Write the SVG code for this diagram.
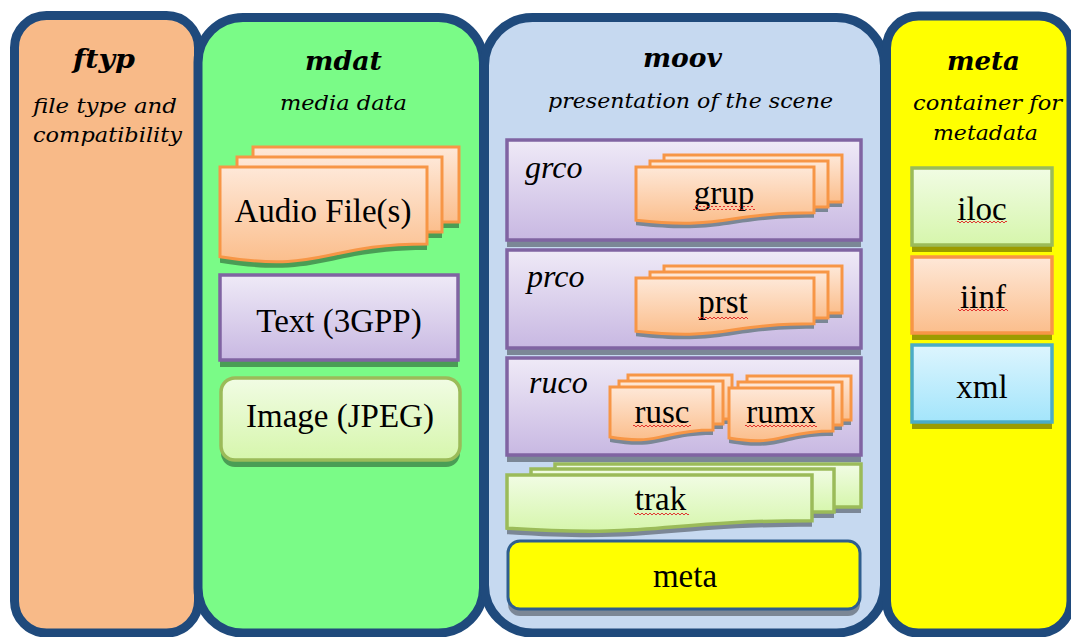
<svg xmlns="http://www.w3.org/2000/svg" width="1071" height="637" viewBox="0 0 1071 637">
<defs>
<linearGradient id="gOrange" x1="0" y1="0" x2="0" y2="1"><stop offset="0" stop-color="#FEE8D8"/><stop offset="1" stop-color="#FBBE8C"/></linearGradient>
<linearGradient id="gPurple" x1="0" y1="0" x2="0" y2="1"><stop offset="0" stop-color="#EFEAF7"/><stop offset="1" stop-color="#C8B8E2"/></linearGradient>
<linearGradient id="gGreen" x1="0" y1="0" x2="0" y2="1"><stop offset="0" stop-color="#F1FCE4"/><stop offset="1" stop-color="#D6F6AC"/></linearGradient>
<linearGradient id="gCyan" x1="0" y1="0" x2="0" y2="1"><stop offset="0" stop-color="#DDF5FE"/><stop offset="1" stop-color="#A3E5FB"/></linearGradient>
<pattern id="sq" patternUnits="userSpaceOnUse" width="4" height="4"><path d="M0,3 L2,1 L4,3" fill="none" stroke="#E02020" stroke-width="0.9"/></pattern>
</defs>
<style>
.panel{stroke:#1F4A7C;stroke-width:9}
.title{font-family:"DejaVu Serif",serif;font-weight:bold;font-style:italic;font-size:26px;fill:#000;text-anchor:middle}
.sub{font-family:"DejaVu Serif",serif;font-style:italic;font-size:21px;fill:#000;text-anchor:middle}
.lbl{font-family:"Liberation Serif",serif;font-size:33px;fill:#000;text-anchor:middle}
.ilbl{font-family:"Liberation Serif",serif;font-style:italic;font-size:32px;fill:#000}
.or{fill:url(#gOrange);stroke:#F79646;stroke-width:3}
.pu{fill:url(#gPurple);stroke:#8064A2;stroke-width:3.5}
.gr{fill:url(#gGreen);stroke:#9BBB59;stroke-width:3.5}
.cy{fill:url(#gCyan);stroke:#4BACC6;stroke-width:3.5}
.ye{fill:#FFFF00;stroke:#2F5E8E;stroke-width:3}
.shG{fill:#4A9D55}
.shM{fill:#7B8796}
.shY{fill:#9C9C00}
.sq{fill:url(#sq)}
</style>

<g id="panel-ftyp">
<rect class="panel" x="14.5" y="15.5" width="184" height="617.5" rx="32" fill="#F8BA88"/>
<text class="title" x="104" y="68" textLength="62" lengthAdjust="spacingAndGlyphs">ftyp</text>
<text class="sub" x="105" y="113" textLength="144" lengthAdjust="spacingAndGlyphs">file type and</text>
<text class="sub" x="107.5" y="142" textLength="149" lengthAdjust="spacingAndGlyphs">compatibility</text>
</g>

<g id="panel-mdat">
<rect class="panel" x="198" y="17.5" width="285.5" height="615.5" rx="45" fill="#7AFB87"/>
<text class="title" x="343.5" y="70" textLength="77" lengthAdjust="spacingAndGlyphs">mdat</text>
<text class="sub" x="343.5" y="110" textLength="127" lengthAdjust="spacingAndGlyphs">media data</text>
</g>

<g id="panel-moov">
<rect class="panel" x="484.5" y="17.5" width="400" height="615.5" rx="48" fill="#C6D9F0"/>
<text class="title" x="682.5" y="67" textLength="79" lengthAdjust="spacingAndGlyphs">moov</text>
<text class="sub" x="690.5" y="108" textLength="285" lengthAdjust="spacingAndGlyphs">presentation of the scene</text>
</g>

<g id="panel-meta">
<rect class="panel" x="886.5" y="16" width="184.5" height="617" rx="32" fill="#FFFF00"/>
<text class="title" x="983.5" y="70" textLength="73" lengthAdjust="spacingAndGlyphs">meta</text>
<text class="sub" x="987.5" y="110" textLength="149" lengthAdjust="spacingAndGlyphs">container for</text>
<text class="sub" x="985.5" y="140" textLength="105" lengthAdjust="spacingAndGlyphs">metadata</text>
</g>

<g id="node-audio">
<rect class="shG" x="253" y="153" width="206" height="75"/>
<rect class="or" x="253" y="147" width="206" height="75"/>
<rect class="shG" x="237" y="163" width="205" height="75"/>
<rect class="or" x="237" y="157" width="205" height="75"/>
<path class="shG" d="M220,173 H427 V250 C323.5,250 323.5,279.3 220,262.7 Z"/>
<path class="or" d="M220,167 H427 V244 C323.5,244 323.5,273.3 220,256.7 Z"/>
<text class="lbl" x="323" y="222">Audio File(s)</text>
</g>

<g id="node-text3gpp">
<rect class="shG" x="220" y="282" width="238" height="85"/>
<rect class="pu" x="220" y="275" width="238" height="85"/>
<text class="lbl" x="339" y="332">Text (3GPP)</text>
</g>

<g id="node-image">
<rect class="shG" x="221" y="385" width="239" height="82" rx="14"/>
<rect class="gr" x="221" y="378" width="239" height="82" rx="14"/>
<text class="lbl" x="340" y="427">Image (JPEG)</text>
</g>

<g id="node-grco">
<rect class="shM" x="507" y="147" width="354" height="100"/>
<rect class="pu" x="507" y="140" width="354" height="100"/>
<text class="ilbl" x="525" y="178">grco</text>
</g>
<g id="node-grup">
<rect class="shM" x="664" y="160" width="178" height="47"/>
<rect class="or" x="664" y="155" width="178" height="47"/>
<rect class="shM" x="650" y="166" width="178" height="46"/>
<rect class="or" x="650" y="161" width="178" height="46"/>
<path class="shM" d="M636,172 H814 V217.7 C725,217.7 725,235.1 636,225.2 Z"/>
<path class="or" d="M636,167 H814 V212.7 C725,212.7 725,230.1 636,220.2 Z"/>
<text class="lbl" x="724" y="204">grup</text>
<rect class="sq" x="693" y="206" width="62" height="4"/>
</g>

<g id="node-prco">
<rect class="shM" x="507" y="257" width="354" height="98"/>
<rect class="pu" x="507" y="250" width="354" height="98"/>
<text class="ilbl" x="527" y="287">prco</text>
</g>
<g id="node-prst">
<rect class="shM" x="664" y="271" width="178" height="47"/>
<rect class="or" x="664" y="266" width="178" height="47"/>
<rect class="shM" x="650" y="277" width="178" height="46"/>
<rect class="or" x="650" y="272" width="178" height="46"/>
<path class="shM" d="M636,283 H814 V328.7 C725,328.7 725,346.1 636,336.2 Z"/>
<path class="or" d="M636,278 H814 V323.7 C725,323.7 725,341.1 636,331.2 Z"/>
<text class="lbl" x="723" y="313">prst</text>
<rect class="sq" x="698" y="315" width="50" height="4"/>
</g>

<g id="node-ruco">
<rect class="shM" x="507" y="365" width="354" height="97"/>
<rect class="pu" x="507" y="358" width="354" height="97"/>
<text class="ilbl" x="529" y="393">ruco</text>
</g>
<g id="node-rusc">
<rect class="shM" x="628" y="380" width="104" height="44"/>
<rect class="or" x="628" y="375" width="104" height="44"/>
<rect class="shM" x="619" y="386" width="104" height="43"/>
<rect class="or" x="619" y="381" width="104" height="43"/>
<path class="shM" d="M610,392 H713 V434.9 C661.5,434.9 661.5,451.2 610,442 Z"/>
<path class="or" d="M610,387 H713 V429.9 C661.5,429.9 661.5,446.2 610,437 Z"/>
<text class="lbl" x="662" y="423">rusc</text>
<rect class="sq" x="633" y="424" width="58" height="4"/>
</g>
<g id="node-rumx">
<rect class="shM" x="747" y="381" width="104" height="44"/>
<rect class="or" x="747" y="376" width="104" height="44"/>
<rect class="shM" x="738" y="387" width="104" height="43"/>
<rect class="or" x="738" y="382" width="104" height="43"/>
<path class="shM" d="M729,393 H833 V435.9 C781,435.9 781,452.2 729,443 Z"/>
<path class="or" d="M729,388 H833 V430.9 C781,430.9 781,447.2 729,438 Z"/>
<text class="lbl" x="781" y="423">rumx</text>
<rect class="sq" x="745" y="424" width="72" height="4"/>
</g>

<g id="node-trak">
<rect class="shM" x="555" y="470" width="306" height="43"/>
<rect class="gr" x="555" y="464" width="306" height="43"/>
<rect class="shM" x="531" y="475" width="303" height="43"/>
<rect class="gr" x="531" y="469" width="303" height="43"/>
<path class="shM" d="M507,481 H812 V526.7 C659.5,526.7 659.5,544.1 507,534.2 Z"/>
<path class="gr" d="M507,475 H812 V520.7 C659.5,520.7 659.5,538.1 507,528.2 Z"/>
<text class="lbl" x="660.5" y="510">trak</text>
<rect class="sq" x="634" y="512" width="55" height="4"/>
</g>

<g id="node-moov-meta">
<rect class="shM" x="508" y="548" width="352" height="68" rx="12"/>
<rect class="ye" x="508" y="541" width="352" height="68" rx="12"/>
<text class="lbl" x="685" y="587">meta</text>
</g>

<g id="node-iloc">
<rect class="shY" x="912" y="175" width="140" height="77"/>
<rect class="gr" x="912" y="168" width="140" height="77"/>
<text class="lbl" x="982" y="220">iloc</text>
<rect class="sq" x="957" y="221" width="50" height="4"/>
</g>
<g id="node-iinf">
<rect class="shY" x="912" y="264" width="140" height="76"/>
<rect class="or" x="912" y="257" width="140" height="76" style="stroke-width:3.5"/>
<text class="lbl" x="983" y="308">iinf</text>
<rect class="sq" x="958" y="309" width="50" height="4"/>
</g>
<g id="node-xml">
<rect class="shY" x="912" y="352" width="140" height="77"/>
<rect class="cy" x="912" y="345" width="140" height="77"/>
<text class="lbl" x="982" y="398">xml</text>
</g>

<g id="connectors"></g>
</svg>
